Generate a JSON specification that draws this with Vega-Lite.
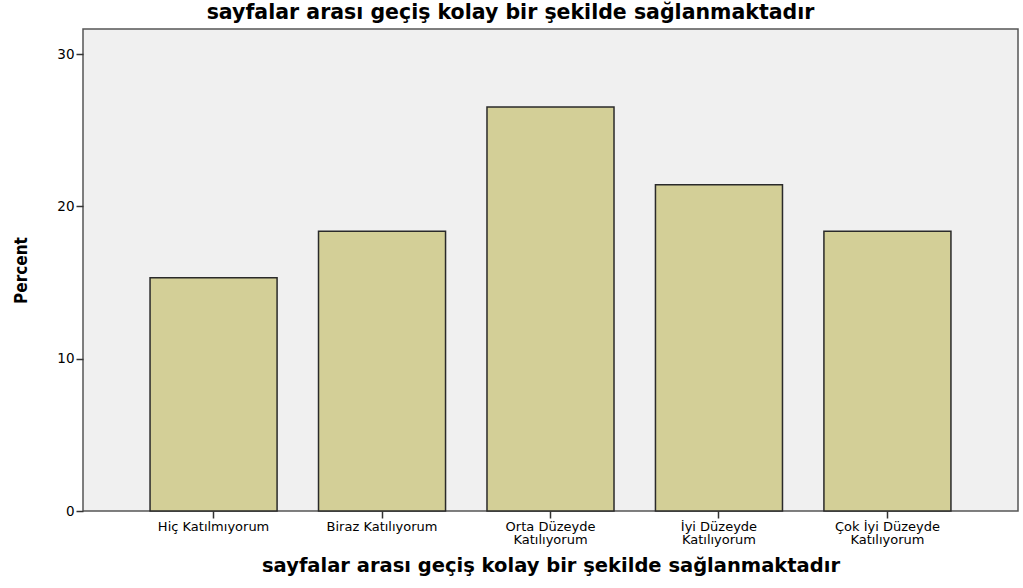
{
  "$schema": "https://vega.github.io/schema/vega-lite/v6.json",
  "width": 935,
  "height": 482,
  "autosize": {"type": "none"},
  "padding": {"left": 83, "top": 29, "right": 5, "bottom": 77},
  "background": "white",
  "title": {
    "text": "sayfalar arası geçiş kolay bir şekilde sağlanmaktadır",
    "font": "DejaVu Sans",
    "fontSize": 20.5,
    "fontWeight": "bold",
    "color": "black",
    "anchor": "middle",
    "dx": -40,
    "offset": 6
  },
  "config": {
    "view": {"fill": "#f0f0f0", "stroke": "#555555", "strokeWidth": 1.5}
  },
  "data": {
    "values": [
      {"category": "Hiç Katılmıyorum", "percent": 15.31},
      {"category": "Biraz Katılıyorum", "percent": 18.37},
      {"category": "Orta Düzeyde Katılıyorum", "percent": 26.53},
      {"category": "İyi Düzeyde Katılıyorum", "percent": 21.43},
      {"category": "Çok İyi Düzeyde Katılıyorum", "percent": 18.37}
    ]
  },
  "mark": {"type": "bar", "color": "#d3cf97", "stroke": "#2a2a2a", "strokeWidth": 1.5},
  "encoding": {
    "x": {
      "field": "category",
      "type": "nominal",
      "sort": null,
      "scale": {"paddingInner": 0.246, "paddingOuter": 0.398},
      "axis": {
        "title": "sayfalar arası geçiş kolay bir şekilde sağlanmaktadır",
        "titleFont": "DejaVu Sans",
        "titleFontSize": 19.5,
        "titleFontWeight": "bold",
        "titleColor": "black",
        "titlePadding": 10,
        "labelAngle": 0,
        "labelFont": "DejaVu Sans",
        "labelFontSize": 13,
        "labelColor": "black",
        "labelPadding": 2,
        "labelLineHeight": 13,
        "labelExpr": "indexof(datum.label, 'Düzeyde') >= 0 ? split(replace(datum.label, 'Düzeyde ', 'Düzeyde|'), '|') : datum.label",
        "tickSize": 7,
        "tickColor": "#333333",
        "tickWidth": 1.5,
        "domain": false
      }
    },
    "y": {
      "field": "percent",
      "type": "quantitative",
      "scale": {"domain": [0, 31.65], "nice": false},
      "axis": {
        "title": "Percent",
        "titleFont": "DejaVu Sans Condensed, Liberation Sans",
        "titleFontSize": 17,
        "titleFontWeight": "bold",
        "titleColor": "black",
        "titlePadding": 26,
        "values": [0, 10, 20, 30],
        "labelFont": "DejaVu Sans",
        "labelFontSize": 13.5,
        "labelColor": "black",
        "labelPadding": 2,
        "tickSize": 7,
        "tickColor": "#333333",
        "tickWidth": 1.5,
        "grid": false,
        "domain": false
      }
    }
  }
}
